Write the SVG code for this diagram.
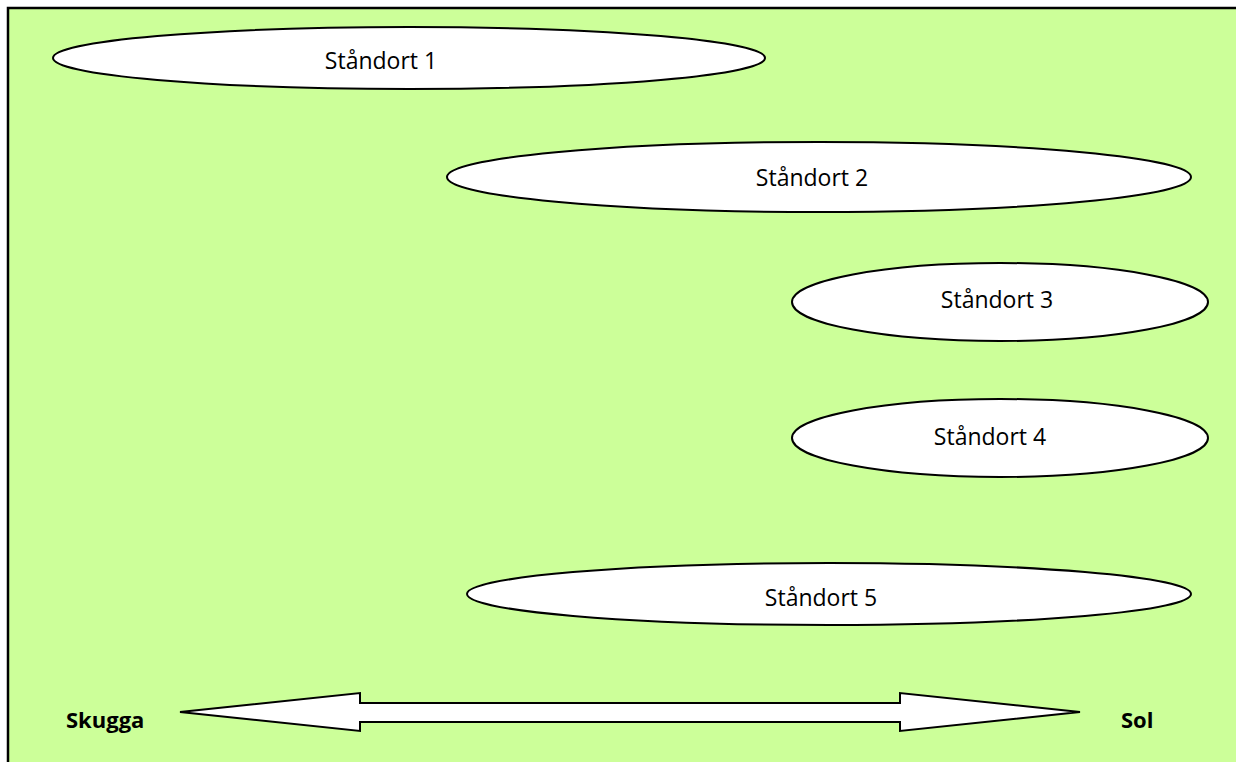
<svg xmlns="http://www.w3.org/2000/svg" width="1236" height="762" viewBox="0 0 1236 762">
<style>
.bg{fill:#CCFF99;stroke:#000;stroke-width:2.5}
.node ellipse{fill:#fff;stroke:#000;stroke-width:2}
.lbl{font-family:"Open Sans","Liberation Sans",sans-serif;font-size:23px;fill:#000;text-anchor:middle}
.end{font-family:"Open Sans","Liberation Sans",sans-serif;font-size:22px;font-weight:bold;fill:#000}
.arrow{fill:#fff;stroke:#000;stroke-width:2;stroke-linejoin:miter}
</style>
<rect class="bg" x="8" y="8" width="1250" height="780"/>
<g id="node1" class="node"><ellipse cx="409" cy="58" rx="356" ry="31"/><text class="lbl" x="381" y="69">Ståndort 1</text></g>
<g id="node2" class="node"><ellipse cx="819" cy="177" rx="372" ry="35"/><text class="lbl" x="812" y="186">Ståndort 2</text></g>
<g id="node3" class="node"><ellipse cx="1000" cy="302" rx="208" ry="39"/><text class="lbl" x="997" y="308">Ståndort 3</text></g>
<g id="node4" class="node"><ellipse cx="1000" cy="438" rx="208" ry="39"/><text class="lbl" x="990" y="445">Ståndort 4</text></g>
<g id="node5" class="node"><ellipse cx="829" cy="594" rx="362" ry="31"/><text class="lbl" x="821" y="606">Ståndort 5</text></g>
<g id="connectors">
<polygon class="arrow" points="180,712 360,693 360,703 900,703 900,693 1080,712 900,731 900,722 360,722 360,731"/>
</g>
<g id="labels">
<text class="end" x="66" y="728">Skugga</text>
<text class="end" x="1121" y="728">Sol</text>
</g>
</svg>
